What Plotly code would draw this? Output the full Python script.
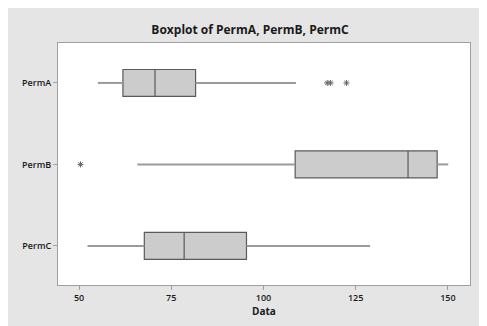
import plotly.graph_objects as go

# summary statistics
categories = ["PermA", "PermB", "PermC"]
lower_whisker = [55.1, 65.8, 52.3]
q1 = [61.9, 108.6, 67.7]
median = [70.6, 139.2, 78.5]
q3 = [81.6, 147.1, 95.4]
upper_whisker = [108.8, 150.1, 128.9]

outlier_cat = ["PermA", "PermA", "PermA", "PermB"]
outlier_val = [117.3, 118.2, 122.5, 50.4]

fig = go.Figure()

# whiskers (lighter grey, drawn separately so the box outline stays darker)
for cat, lo, a, b, hi in zip(categories, lower_whisker, q1, q3, upper_whisker):
    for x0, x1 in [(lo, a), (b, hi)]:
        fig.add_trace(go.Scatter(
            x=[x0, x1], y=[cat, cat], mode="lines",
            line=dict(color="#9a9a9a", width=2),
            showlegend=False, hoverinfo="skip",
        ))

fig.add_trace(go.Box(
    y=categories, orientation="h",
    q1=q1, median=median, q3=q3,
    lowerfence=q1, upperfence=q3,
    fillcolor="#cccccc",
    line=dict(color="#5a5a5a", width=1.2),
    whiskerwidth=0, width=0.33,
    showlegend=False,
))

fig.add_trace(go.Scatter(
    x=outlier_val, y=outlier_cat, mode="markers",
    marker=dict(symbol="asterisk-open", size=5, color="#666666",
                line=dict(color="#666666", width=1)),
    showlegend=False,
))

# page body keeps its default 8px margin, so the figure is 8px smaller
W, H = 479, 318
tick_font = dict(size=9, color="#1a1a1a", weight=600)
fig.update_layout(
    width=W, height=H,
    margin=dict(l=50, r=17, t=35, b=41, autoexpand=False),
    paper_bgcolor="#e5e5e5",
    plot_bgcolor="white",
    font=dict(family="Open Sans, sans-serif", color="#1a1a1a"),
    title=dict(text="<b>Boxplot of PermA, PermB, PermC</b>",
               x=242 / W, xanchor="center", y=1 - 22 / H, yanchor="middle",
               font=dict(size=12, color="#1a1a1a")),
)

fig.update_xaxes(
    range=[44.3, 156], automargin=False,
    tickvals=[50, 75, 100, 125, 150],
    ticks="outside", ticklen=4, tickcolor="#a0a0a0",
    showgrid=False, zeroline=False,
    showline=True, linecolor="#a0a0a0", linewidth=1, mirror=True,
    tickfont=tick_font,
    title=dict(text="<b>Data</b>", font=dict(size=10, color="#1a1a1a"), standoff=4),
)
fig.update_yaxes(
    categoryorder="array", categoryarray=categories, automargin=False,
    autorange=False, range=[2.48, -0.49],
    ticks="outside", ticklen=4, tickcolor="#a0a0a0",
    showgrid=False, zeroline=False,
    showline=True, linecolor="#a0a0a0", linewidth=1, mirror=True,
    tickfont=tick_font,
)

fig.write_html("out.html")
